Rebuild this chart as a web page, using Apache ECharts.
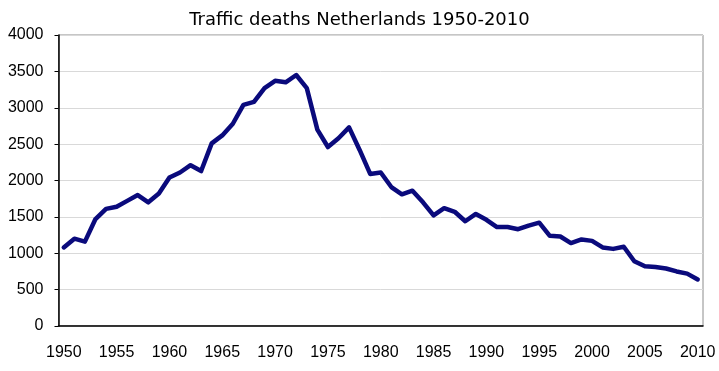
<!DOCTYPE html>
<html lang="en">
<head>
    <meta charset="UTF-8">
    <title>Traffic deaths Netherlands 1950-2010</title>
    <script src="https://cdn.jsdelivr.net/npm/echarts@6/dist/echarts.min.js"></script>
</head>
<style>
    *{
        margin: 0;
        padding: 0;
    }
    html,body{
        width: 100%;
        height: 100%;
        overflow: hidden;
        background: #fff;
    }
    .container{
        width: 719px;
        height: 371px;
    }
</style>
<body>
<div class="container"></div>
<script>
    // years 1950..2010, one per category
    let years=['1950','1951','1952','1953','1954','1955','1956','1957','1958','1959',
        '1960','1961','1962','1963','1964','1965','1966','1967','1968','1969',
        '1970','1971','1972','1973','1974','1975','1976','1977','1978','1979',
        '1980','1981','1982','1983','1984','1985','1986','1987','1988','1989',
        '1990','1991','1992','1993','1994','1995','1996','1997','1998','1999',
        '2000','2001','2002','2003','2004','2005','2006','2007','2008','2009','2010'];
    // deaths
    let deaths=[1080,1200,1160,1470,1610,1640,1720,1800,1700,1820,
        2040,2110,2210,2130,2510,2620,2780,3040,3080,3270,
        3370,3350,3450,3270,2700,2460,2580,2730,2420,2090,
        2110,1910,1810,1860,1700,1520,1620,1570,1440,1540,
        1460,1360,1360,1330,1380,1420,1240,1230,1140,1190,
        1170,1080,1060,1090,890,820,810,790,750,720,640];
    let yTicks=[0,500,1000,1500,2000,2500,3000,3500,4000];

    let container=document.querySelector('.container');
    let mycharts=echarts.init(container);

    let options={
        animation:false,
        backgroundColor:'#fff',
        title:{
            text:'Traffic deaths Netherlands 1950-2010',
            left:'center',
            top:6,
            textStyle:{
                fontFamily:'DejaVu Sans',
                fontSize:18,
                fontWeight:'normal',
                color:'#000'
            }
        },
        grid:{
            left:58.5,
            right:16,
            top:35,
            bottom:45,
            show:true,
            borderColor:'#8c8c8c',
            borderWidth:1
        },
        xAxis:{
            type:'category',
            data:years,
            boundaryGap:true,
            axisLine:{lineStyle:{color:'#000',width:1.5}},
            axisTick:{
                interval:4,
                length:5,
                lineStyle:{color:'#999'}
            },
            axisLabel:{
                interval:4,
                margin:19,
                color:'#000',
                fontFamily:'Liberation Sans',
                fontSize:16
            }
        },
        yAxis:{
            type:'value',
            min:yTicks[0],
            max:yTicks[yTicks.length-1],
            interval:500,
            axisLine:{show:true,lineStyle:{color:'#000',width:1.5}},
            axisTick:{show:true,length:4,lineStyle:{color:'#000'}},
            axisLabel:{
                margin:15,
                color:'#000',
                fontFamily:'Liberation Sans',
                fontSize:16,
                formatter:v=>String(v)
            },
            splitLine:{lineStyle:{color:'#d9d9d9',width:1}}
        },
        series:[{
            name:'Traffic deaths',
            type:'line',
            data:deaths,
            symbol:'none',
            lineStyle:{color:'#0a0a7c',width:4.5,join:'round',cap:'round'}
        }]
    };
    mycharts.setOption(options);
</script>
</body>
</html>
